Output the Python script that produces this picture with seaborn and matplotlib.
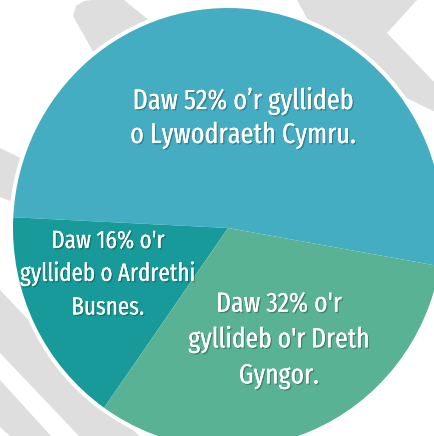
import matplotlib
matplotlib.use("Agg")
import matplotlib.pyplot as plt
import matplotlib.patheffects as pe
from matplotlib.patches import Polygon, Ellipse
import seaborn as sns

# ---- data ----
labels = [
    "Daw 52% o\u2019r gyllideb\no Lywodraeth Cymru.",
    "Daw 16% o'r\ngyllideb o Ardrethi\nBusnes.",
    "Daw 32% o'r\ngyllideb o'r Dreth\nGyngor.",
]
shares = [52, 16, 32]
colors = ["#45ADC2", "#189A9A", "#59B293"]

sns.set_theme(style="white")
plt.rcParams["font.family"] = ["Fira Sans Extra Condensed", "Fira Sans Condensed", "Lato", "DejaVu Sans"]

W, H = 435, 436
fig = plt.figure(figsize=(W / 100, H / 100), dpi=100)
fig.patch.set_facecolor("white")

# background decoration (pixel coordinates)
bg = fig.add_axes([0, 0, 1, 1], zorder=0)
bg.set_xlim(0, W)
bg.set_ylim(H, 0)
bg.axis("off")
gray = "#DEDEDE"
shapes = [
    [(73, 16), (76, 6), (84, 1), (92, 0), (124, 0), (155, 25), (120, 90), (95, 55)],
    [(297, 0), (417, 0), (387, 33), (435, 83), (435, 112), (330, 60)],
    [(0, 148), (45, 170), (45, 215), (0, 197)],
    [(0, 290), (139, 436), (79, 436), (0, 353)],
    [(0, 380), (51, 436), (10, 436), (0, 427)],
]
for s in shapes:
    bg.add_patch(Polygon(s, closed=True, facecolor=gray, edgecolor="none"))

# pie axes: ellipse a (horizontal px), b (vertical px), centre (cx, cy) px from top-left
cx, cy, a, b = 228, 228, 215, 220
ax = fig.add_axes([0, 0, 1, 1], zorder=1)
ax.patch.set_alpha(0)
ax.add_patch(Ellipse((0, 0), 2 * (a + 4) / a, 2 * (b + 4) / b,
                     facecolor="white", edgecolor="none", zorder=0))
ax.pie(shares, colors=colors, startangle=-10, counterclock=True,
       radius=1, center=(0, 0),
       wedgeprops=dict(linewidth=0, edgecolor="none"))
ax.set_aspect("auto")
ax.set_xlim(-cx / a, (W - cx) / a)
ax.set_ylim(-(H - cy) / b, cy / b)
ax.axis("off")

shadow = [pe.withSimplePatchShadow(offset=(1, -1), shadow_rgbFace="black", alpha=0.25),
          pe.Normal()]
text_pos = [(243, 118, 20.5, 1.32), (108, 274, 18, 1.4), (279, 340, 20, 1.42)]
for lab, (x, y, fs, ls) in zip(labels, text_pos):
    fig.text(x / W, 1 - y / H, lab, ha="center", va="center", color="white",
             fontsize=fs, linespacing=ls, path_effects=shadow, zorder=5)

fig.savefig("out.png", dpi=100)
